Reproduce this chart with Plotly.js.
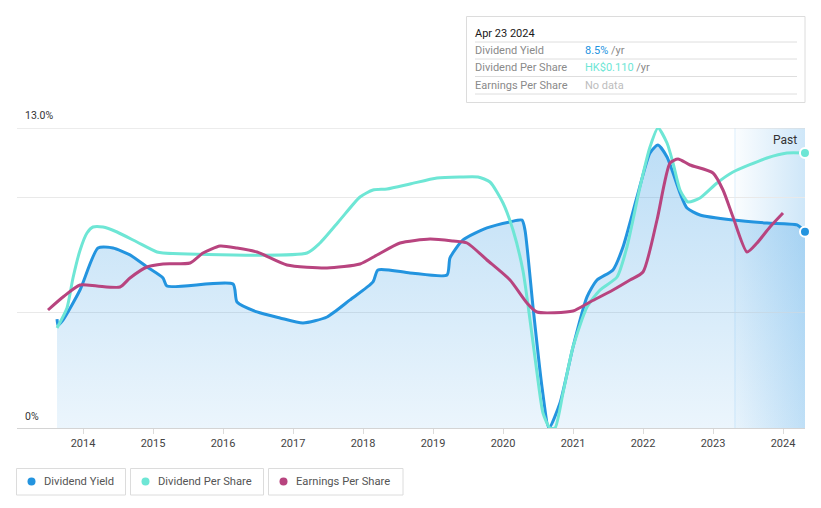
<!DOCTYPE html>
<html><head><meta charset="utf-8">
<script src="https://cdn.plot.ly/plotly-3.0.1.min.js"></script>
<style>html,body{margin:0;padding:0;background:#fff}#chart{width:821px;height:508px}</style>
</head><body><div id="chart"></div>
<script>
// ---------- data ----------
const dyYears = [2013.629, 2013.643, 2013.714, 2013.957, 2014.214, 2014.429, 2014.671, 2014.914, 2015.143, 2015.2, 2016.143, 2016.2, 2016.486, 2016.814, 2017.143, 2017.486, 2017.814, 2018.143, 2018.214, 2018.671, 2019.2, 2019.243, 2019.429, 2019.771, 2020.1, 2020.271, 2020.314, 2020.429, 2020.557, 2020.657, 2020.814, 2021.0, 2021.2, 2021.343, 2021.571, 2021.714, 2021.914, 2022.1, 2022.214, 2022.343, 2022.529, 2022.629, 2022.814, 2023.286, 2023.771, 2024.2, 2024.314];
const dyValues = [4.72, 4.46, 4.68, 5.98, 7.80, 7.80, 7.50, 6.98, 6.50, 6.15, 6.24, 5.46, 5.03, 4.77, 4.55, 4.81, 5.55, 6.33, 6.85, 6.72, 6.63, 7.37, 8.15, 8.67, 8.93, 9.01, 8.58, 5.24, 1.78, 0.0, 1.08, 3.51, 5.68, 6.41, 6.85, 7.84, 10.01, 11.92, 12.26, 11.74, 10.18, 9.53, 9.23, 9.01, 8.88, 8.80, 8.50];

const dpsYears = [2013.629, 2013.771, 2013.857, 2013.957, 2014.057, 2014.143, 2014.286, 2014.486, 2014.771, 2015.057, 2015.143, 2017.2, 2017.386, 2017.671, 2017.957, 2018.143, 2018.343, 2018.671, 2019.057, 2019.386, 2019.643, 2019.814, 2020.0, 2020.143, 2020.286, 2020.386, 2020.486, 2020.571, 2020.671, 2020.743, 2020.857, 2021.0, 2021.2, 2021.386, 2021.629, 2021.771, 2021.957, 2022.1, 2022.214, 2022.343, 2022.429, 2022.529, 2022.643, 2022.814, 2023.057, 2023.286, 2023.771, 2024.057, 2024.314];
const dpsValues = [0.040, 0.048, 0.060, 0.071, 0.078, 0.0804, 0.0804, 0.0784, 0.0744, 0.0704, 0.070, 0.070, 0.074, 0.0832, 0.0924, 0.0952, 0.0956, 0.0976, 0.100, 0.1004, 0.1004, 0.0984, 0.090, 0.0792, 0.0628, 0.0432, 0.022, 0.006, 0.0, 0.0, 0.014, 0.0324, 0.0484, 0.0552, 0.0604, 0.0724, 0.0964, 0.1124, 0.120, 0.114, 0.106, 0.0952, 0.0904, 0.092, 0.098, 0.1024, 0.108, 0.110, 0.110];

const epsYears = [2013.5, 2013.714, 2013.957, 2014.2, 2014.529, 2014.671, 2014.914, 2015.143, 2015.529, 2015.714, 2015.957, 2016.2, 2016.486, 2016.914, 2017.486, 2017.957, 2018.2, 2018.529, 2018.957, 2019.286, 2019.486, 2019.771, 2020.1, 2020.343, 2020.486, 2021.0, 2021.243, 2021.571, 2021.814, 2022.0, 2022.2, 2022.386, 2022.5, 2022.671, 2023.0, 2023.143, 2023.286, 2023.486, 2023.629, 2023.814, 2024.0];
const epsValues = [0.118, 0.131, 0.143, 0.142, 0.141, 0.150, 0.161, 0.164, 0.165, 0.175, 0.182, 0.180, 0.176, 0.163, 0.160, 0.164, 0.173, 0.185, 0.189, 0.187, 0.185, 0.168, 0.148, 0.125, 0.116, 0.117, 0.126, 0.138, 0.148, 0.156, 0.208, 0.265, 0.269, 0.263, 0.255, 0.238, 0.211, 0.176, 0.185, 0.201, 0.215];

const tickYears = [2014, 2015, 2016, 2017, 2018, 2019, 2020, 2021, 2022, 2023, 2024];
const tickLabels = ['2014', '2015', '2016', '2017', '2018', '2019', '2020', '2021', '2022', '2023', '2024'];
const yGridValues = [0, 5, 10, 13];
const yTickLabels = ['13.0%', '0%'];
const seriesNames = ['Dividend Yield', 'Dividend Per Share', 'Earnings Per Share'];
const tooltipDate = 'Apr 23 2024';
const tooltipValues = ['8.5%', 'HK$0.110', 'No data'];
const tooltipUnits = [' /yr', ' /yr', ''];
const pastLabel = 'Past';
const pastStart = 2023.314;
const xRange = [2013.0571, 2024.3143];
const yRange = [0, 13];

// ---------- styling ----------
const C_BLUE = '#2394df', C_TEAL = '#6ee6d5', C_PURPLE = '#b8447f';
const FONT = 'Roboto, "Open Sans", sans-serif';
const L = 17, R = 805, T = 128, B = 428;
const px = x => (x - L) / (R - L);
const py = y => (B - y) / (B - T);

const traces = [
  {x: dyYears, y: dyValues, type: 'scatter', mode: 'lines', yaxis: 'y',
   line: {color: C_BLUE, width: 3, shape: 'spline', smoothing: 0.6},
   fill: 'tozeroy',
   fillgradient: {type: 'vertical', colorscale: [[0, 'rgba(35,145,225,0.09)'], [1, 'rgba(35,145,225,0.30)']]},
   hoverinfo: 'skip', showlegend: false},
  {x: dpsYears, y: dpsValues, type: 'scatter', mode: 'lines', yaxis: 'y2',
   line: {color: C_TEAL, width: 3, shape: 'spline', smoothing: 0.6},
   hoverinfo: 'skip', showlegend: false},
  {x: epsYears, y: epsValues, type: 'scatter', mode: 'lines', yaxis: 'y3',
   line: {color: C_PURPLE, width: 3, shape: 'spline', smoothing: 0.6},
   hoverinfo: 'skip', showlegend: false},
  {x: [dyYears[dyYears.length - 1]], y: [dyValues[dyValues.length - 1]], type: 'scatter', mode: 'markers', yaxis: 'y',
   marker: {color: C_BLUE, size: 10, line: {color: '#fff', width: 2}}, cliponaxis: false, hoverinfo: 'skip', showlegend: false},
  {x: [dpsYears[dpsYears.length - 1]], y: [dpsValues[dpsValues.length - 1]], type: 'scatter', mode: 'markers', yaxis: 'y2',
   marker: {color: C_TEAL, size: 10, line: {color: '#fff', width: 2}}, cliponaxis: false, hoverinfo: 'skip', showlegend: false}
];

const svgGrad = '<svg xmlns="http://www.w3.org/2000/svg" width="100" height="100" preserveAspectRatio="none"><defs><linearGradient id="g" x1="0" y1="0" x2="1" y2="0"><stop offset="0" stop-color="rgb(35,145,225)" stop-opacity="0.02"/><stop offset="1" stop-color="rgb(35,145,225)" stop-opacity="0.22"/></linearGradient></defs><rect width="100" height="100" fill="url(#g)"/></svg>';

const shapes = [
  {type: 'line', xref: 'x', yref: 'paper', x0: pastStart, x1: pastStart, y0: 0, y1: 1, line: {color: 'rgba(35,145,225,0.15)', width: 1}, layer: 'below'},
  // top grid line
  {type: 'line', xref: 'paper', yref: 'y', x0: 0, x1: 1, y0: yRange[1], y1: yRange[1], line: {color: '#d9d9d9', width: 1}, layer: 'below'},
  // tooltip box
  {type: 'rect', xref: 'paper', yref: 'paper', x0: px(466.5), x1: px(805), y0: py(16.5), y1: py(102.5), line: {color: '#dcdcdc', width: 1}, fillcolor: '#fff'}
];
[42, 59, 76.5, 94].forEach(y => shapes.push({type: 'line', xref: 'paper', yref: 'paper', x0: px(475), x1: px(797), y0: py(y), y1: py(y), line: {color: '#dedede', width: 1}}));

const annotations = [
  {xref: 'paper', yref: 'paper', x: px(23), y: py(116), xanchor: 'left', yanchor: 'middle', text: yTickLabels[0], showarrow: false, font: {family: FONT, size: 10.5, color: '#333'}},
  {xref: 'paper', yref: 'paper', x: px(23), y: py(416), xanchor: 'left', yanchor: 'middle', text: yTickLabels[1], showarrow: false, font: {family: FONT, size: 10.5, color: '#333'}},
  {xref: 'paper', yref: 'paper', x: px(799), y: py(140), xanchor: 'right', yanchor: 'middle', text: pastLabel, showarrow: false, font: {family: FONT, size: 12, color: '#333'}},
  {xref: 'paper', yref: 'paper', x: px(473), y: py(33), xanchor: 'left', yanchor: 'middle', text: tooltipDate, showarrow: false, font: {family: FONT, size: 11, color: '#1a1a1a'}}
];
const valueColors = [C_BLUE, C_TEAL, '#bdbdbd'];
const rowY = [50.5, 67.5, 85];
seriesNames.forEach((n, i) => {
  annotations.push({xref: 'paper', yref: 'paper', x: px(473), y: py(rowY[i]), xanchor: 'left', yanchor: 'middle', text: n, showarrow: false, font: {family: FONT, size: 11, color: '#8a8a8a'}});
  annotations.push({xref: 'paper', yref: 'paper', x: px(583), y: py(rowY[i]), xanchor: 'left', yanchor: 'middle',
    text: '<span style="color:' + valueColors[i] + '">' + tooltipValues[i] + '</span>' + tooltipUnits[i], showarrow: false, font: {family: FONT, size: 11, color: '#8a8a8a'}});
});

// legend boxes
const legBoxes = [[16.5, 125.5], [130.5, 263.5], [268.5, 403]];
const legColors = [C_BLUE, C_TEAL, C_PURPLE];
legBoxes.forEach((b, i) => {
  shapes.push({type: 'rect', xref: 'paper', yref: 'paper', x0: px(b[0]), x1: px(b[1]), y0: py(468.5), y1: py(495), line: {color: '#dcdcdc', width: 1}, fillcolor: '#fff'});
  shapes.push({type: 'circle', xref: 'paper', yref: 'paper', xsizemode: 'pixel', ysizemode: 'pixel', xanchor: px(b[0] + 15), yanchor: py(481.5), x0: -4, x1: 4, y0: -4, y1: 4, fillcolor: legColors[i], line: {width: 0}});
  annotations.push({xref: 'paper', yref: 'paper', x: px(b[0] + 25.5), y: py(481.5), xanchor: 'left', yanchor: 'middle', text: seriesNames[i], showarrow: false, font: {family: FONT, size: 11.2, color: '#555'}});
});

const layout = {
  width: 821, height: 508,
  margin: {l: L, r: 821 - R, t: T, b: 508 - B},
  paper_bgcolor: '#fff', plot_bgcolor: '#fff',
  font: {family: FONT},
  showlegend: false,
  hovermode: false,
  xaxis: {type: 'linear', range: xRange, tickvals: tickYears, ticktext: tickLabels, ticks: 'outside', ticklen: 5, tickcolor: '#dcdcdc',
          showline: true, linecolor: '#d4d4d4', linewidth: 1, showgrid: false, zeroline: false, fixedrange: true,
          tickfont: {family: FONT, size: 11, color: '#444'}},
  yaxis: {range: yRange, tickvals: yGridValues, showticklabels: false, showgrid: true, gridcolor: '#e9e9e9', zeroline: false, fixedrange: true},
  yaxis2: {range: [0, 0.12], overlaying: 'y', visible: false, fixedrange: true},
  yaxis3: {range: [0, 0.30], overlaying: 'y', visible: false, fixedrange: true},
  images: [{source: 'data:image/svg+xml;charset=utf-8,' + encodeURIComponent(svgGrad), xref: 'x', yref: 'paper', x: pastStart, y: 1,
            sizex: xRange[1] - pastStart, sizey: 1, sizing: 'stretch', xanchor: 'left', yanchor: 'top', layer: 'below'}],
  shapes: shapes,
  annotations: annotations
};

Plotly.newPlot('chart', traces, layout, {displayModeBar: false, staticPlot: true});
</script>
</body></html>
